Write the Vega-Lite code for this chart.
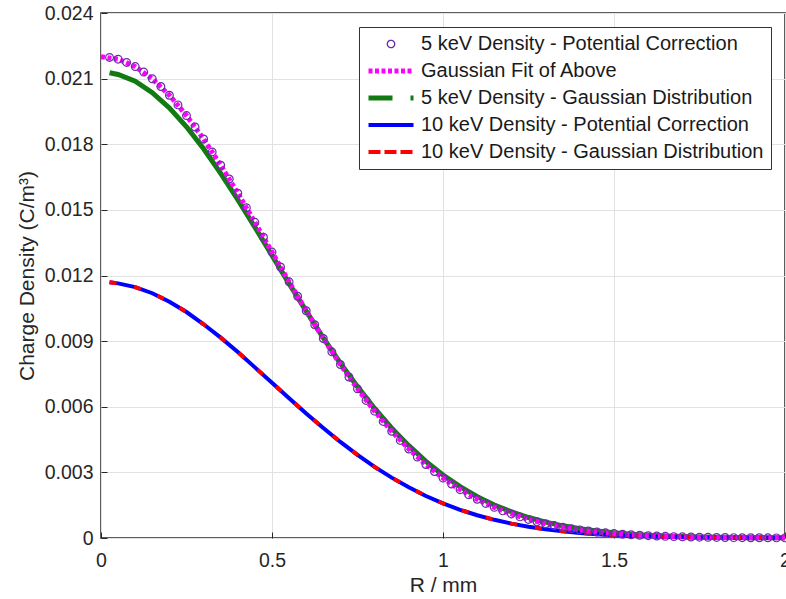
{
  "$schema": "https://vega.github.io/schema/vega-lite/v6.json",
  "width": 684,
  "height": 525,
  "autosize": {"type": "none"},
  "padding": {"left": 101, "top": 13, "right": 1, "bottom": 61},
  "background": "white",
  "config": {
    "font": "Liberation Sans",
    "view": {"stroke": "#262626", "strokeWidth": 1.5},
    "axis": {
      "domain": false,
      "ticks": true,
      "tickSize": -6,
      "tickColor": "#262626",
      "tickWidth": 1,
      "grid": true,
      "gridColor": "#e2e2e2",
      "gridWidth": 1,
      "labelFont": "Liberation Sans",
      "labelFontSize": 19.5,
      "labelColor": "#262626",
      "titleFont": "Liberation Sans",
      "titleFontSize": 21,
      "titleFontWeight": "normal",
      "titleColor": "#262626"
    },
    "legend": {
      "labelFont": "Liberation Sans",
      "labelFontSize": 20,
      "labelColor": "#1a1a1a",
      "fillColor": "white",
      "strokeColor": "#333333",
      "padding": 7,
      "labelOffset": 20,
      "symbolOffset": 15,
      "rowPadding": 7,
      "clipHeight": 20,
      "symbolSize": 2025,
      "symbolStrokeWidth": 5,
      "symbolType": "stroke",
      "cornerRadius": 0,
      "orient": "top-right",
      "offset": 14,
      "labelLimit": 500
    }
  },
  "data": {
    "values": [
      {"r": 0.025, "density": 0.02127, "series": "5 keV Density - Gaussian Distribution"},
      {"r": 0.05, "density": 0.02119, "series": "5 keV Density - Gaussian Distribution"},
      {"r": 0.1, "density": 0.02088, "series": "5 keV Density - Gaussian Distribution"},
      {"r": 0.15, "density": 0.02036, "series": "5 keV Density - Gaussian Distribution"},
      {"r": 0.2, "density": 0.01966, "series": "5 keV Density - Gaussian Distribution"},
      {"r": 0.25, "density": 0.0188, "series": "5 keV Density - Gaussian Distribution"},
      {"r": 0.3, "density": 0.01779, "series": "5 keV Density - Gaussian Distribution"},
      {"r": 0.35, "density": 0.01667, "series": "5 keV Density - Gaussian Distribution"},
      {"r": 0.4, "density": 0.01547, "series": "5 keV Density - Gaussian Distribution"},
      {"r": 0.45, "density": 0.01421, "series": "5 keV Density - Gaussian Distribution"},
      {"r": 0.5, "density": 0.01292, "series": "5 keV Density - Gaussian Distribution"},
      {"r": 0.55, "density": 0.01163, "series": "5 keV Density - Gaussian Distribution"},
      {"r": 0.6, "density": 0.01037, "series": "5 keV Density - Gaussian Distribution"},
      {"r": 0.65, "density": 0.00915, "series": "5 keV Density - Gaussian Distribution"},
      {"r": 0.7, "density": 0.00799, "series": "5 keV Density - Gaussian Distribution"},
      {"r": 0.75, "density": 0.00692, "series": "5 keV Density - Gaussian Distribution"},
      {"r": 0.8, "density": 0.00592, "series": "5 keV Density - Gaussian Distribution"},
      {"r": 0.85, "density": 0.00502, "series": "5 keV Density - Gaussian Distribution"},
      {"r": 0.9, "density": 0.00422, "series": "5 keV Density - Gaussian Distribution"},
      {"r": 0.95, "density": 0.0035, "series": "5 keV Density - Gaussian Distribution"},
      {"r": 1.0, "density": 0.00288, "series": "5 keV Density - Gaussian Distribution"},
      {"r": 1.05, "density": 0.00235, "series": "5 keV Density - Gaussian Distribution"},
      {"r": 1.1, "density": 0.00189, "series": "5 keV Density - Gaussian Distribution"},
      {"r": 1.15, "density": 0.00151, "series": "5 keV Density - Gaussian Distribution"},
      {"r": 1.2, "density": 0.0012, "series": "5 keV Density - Gaussian Distribution"},
      {"r": 1.25, "density": 0.000936, "series": "5 keV Density - Gaussian Distribution"},
      {"r": 1.3, "density": 0.000725, "series": "5 keV Density - Gaussian Distribution"},
      {"r": 1.35, "density": 0.000556, "series": "5 keV Density - Gaussian Distribution"},
      {"r": 1.4, "density": 0.000423, "series": "5 keV Density - Gaussian Distribution"},
      {"r": 1.45, "density": 0.000318, "series": "5 keV Density - Gaussian Distribution"},
      {"r": 1.5, "density": 0.000237, "series": "5 keV Density - Gaussian Distribution"},
      {"r": 1.55, "density": 0.000174, "series": "5 keV Density - Gaussian Distribution"},
      {"r": 1.6, "density": 0.000127, "series": "5 keV Density - Gaussian Distribution"},
      {"r": 1.65, "density": 0.000092, "series": "5 keV Density - Gaussian Distribution"},
      {"r": 1.7, "density": 0.0000658, "series": "5 keV Density - Gaussian Distribution"},
      {"r": 1.75, "density": 0.0000466, "series": "5 keV Density - Gaussian Distribution"},
      {"r": 1.8, "density": 0.0000327, "series": "5 keV Density - Gaussian Distribution"},
      {"r": 1.85, "density": 0.0000227, "series": "5 keV Density - Gaussian Distribution"},
      {"r": 1.9, "density": 0.0000156, "series": "5 keV Density - Gaussian Distribution"},
      {"r": 1.95, "density": 0.0000106, "series": "5 keV Density - Gaussian Distribution"},
      {"r": 2.0, "density": 0.0000071, "series": "5 keV Density - Gaussian Distribution"},

      {"r": 0.025, "density": 0.01169, "series": "10 keV Density - Potential Correction"},
      {"r": 0.05, "density": 0.01164, "series": "10 keV Density - Potential Correction"},
      {"r": 0.1, "density": 0.01147, "series": "10 keV Density - Potential Correction"},
      {"r": 0.15, "density": 0.01119, "series": "10 keV Density - Potential Correction"},
      {"r": 0.2, "density": 0.0108, "series": "10 keV Density - Potential Correction"},
      {"r": 0.25, "density": 0.01033, "series": "10 keV Density - Potential Correction"},
      {"r": 0.3, "density": 0.00977, "series": "10 keV Density - Potential Correction"},
      {"r": 0.35, "density": 0.00916, "series": "10 keV Density - Potential Correction"},
      {"r": 0.4, "density": 0.0085, "series": "10 keV Density - Potential Correction"},
      {"r": 0.45, "density": 0.0078, "series": "10 keV Density - Potential Correction"},
      {"r": 0.5, "density": 0.0071, "series": "10 keV Density - Potential Correction"},
      {"r": 0.55, "density": 0.00639, "series": "10 keV Density - Potential Correction"},
      {"r": 0.6, "density": 0.00569, "series": "10 keV Density - Potential Correction"},
      {"r": 0.65, "density": 0.00503, "series": "10 keV Density - Potential Correction"},
      {"r": 0.7, "density": 0.00439, "series": "10 keV Density - Potential Correction"},
      {"r": 0.75, "density": 0.0038, "series": "10 keV Density - Potential Correction"},
      {"r": 0.8, "density": 0.00325, "series": "10 keV Density - Potential Correction"},
      {"r": 0.85, "density": 0.00276, "series": "10 keV Density - Potential Correction"},
      {"r": 0.9, "density": 0.00232, "series": "10 keV Density - Potential Correction"},
      {"r": 0.95, "density": 0.00192, "series": "10 keV Density - Potential Correction"},
      {"r": 1.0, "density": 0.00158, "series": "10 keV Density - Potential Correction"},
      {"r": 1.05, "density": 0.00129, "series": "10 keV Density - Potential Correction"},
      {"r": 1.1, "density": 0.00104, "series": "10 keV Density - Potential Correction"},
      {"r": 1.15, "density": 0.000831, "series": "10 keV Density - Potential Correction"},
      {"r": 1.2, "density": 0.000657, "series": "10 keV Density - Potential Correction"},
      {"r": 1.25, "density": 0.000514, "series": "10 keV Density - Potential Correction"},
      {"r": 1.3, "density": 0.000398, "series": "10 keV Density - Potential Correction"},
      {"r": 1.35, "density": 0.000306, "series": "10 keV Density - Potential Correction"},
      {"r": 1.4, "density": 0.000232, "series": "10 keV Density - Potential Correction"},
      {"r": 1.45, "density": 0.000175, "series": "10 keV Density - Potential Correction"},
      {"r": 1.5, "density": 0.00013, "series": "10 keV Density - Potential Correction"},
      {"r": 1.55, "density": 0.0000958, "series": "10 keV Density - Potential Correction"},
      {"r": 1.6, "density": 0.00007, "series": "10 keV Density - Potential Correction"},
      {"r": 1.65, "density": 0.0000505, "series": "10 keV Density - Potential Correction"},
      {"r": 1.7, "density": 0.0000362, "series": "10 keV Density - Potential Correction"},
      {"r": 1.75, "density": 0.0000256, "series": "10 keV Density - Potential Correction"},
      {"r": 1.8, "density": 0.0000179, "series": "10 keV Density - Potential Correction"},
      {"r": 1.85, "density": 0.0000124, "series": "10 keV Density - Potential Correction"},
      {"r": 1.9, "density": 0.0000086, "series": "10 keV Density - Potential Correction"},
      {"r": 1.95, "density": 0.0000058, "series": "10 keV Density - Potential Correction"},
      {"r": 2.0, "density": 0.0000039, "series": "10 keV Density - Potential Correction"},

      {"r": 0.025, "density": 0.01169, "series": "10 keV Density - Gaussian Distribution"},
      {"r": 0.05, "density": 0.01164, "series": "10 keV Density - Gaussian Distribution"},
      {"r": 0.1, "density": 0.01147, "series": "10 keV Density - Gaussian Distribution"},
      {"r": 0.15, "density": 0.01119, "series": "10 keV Density - Gaussian Distribution"},
      {"r": 0.2, "density": 0.0108, "series": "10 keV Density - Gaussian Distribution"},
      {"r": 0.25, "density": 0.01033, "series": "10 keV Density - Gaussian Distribution"},
      {"r": 0.3, "density": 0.00977, "series": "10 keV Density - Gaussian Distribution"},
      {"r": 0.35, "density": 0.00916, "series": "10 keV Density - Gaussian Distribution"},
      {"r": 0.4, "density": 0.0085, "series": "10 keV Density - Gaussian Distribution"},
      {"r": 0.45, "density": 0.0078, "series": "10 keV Density - Gaussian Distribution"},
      {"r": 0.5, "density": 0.0071, "series": "10 keV Density - Gaussian Distribution"},
      {"r": 0.55, "density": 0.00639, "series": "10 keV Density - Gaussian Distribution"},
      {"r": 0.6, "density": 0.00569, "series": "10 keV Density - Gaussian Distribution"},
      {"r": 0.65, "density": 0.00503, "series": "10 keV Density - Gaussian Distribution"},
      {"r": 0.7, "density": 0.00439, "series": "10 keV Density - Gaussian Distribution"},
      {"r": 0.75, "density": 0.0038, "series": "10 keV Density - Gaussian Distribution"},
      {"r": 0.8, "density": 0.00325, "series": "10 keV Density - Gaussian Distribution"},
      {"r": 0.85, "density": 0.00276, "series": "10 keV Density - Gaussian Distribution"},
      {"r": 0.9, "density": 0.00232, "series": "10 keV Density - Gaussian Distribution"},
      {"r": 0.95, "density": 0.00192, "series": "10 keV Density - Gaussian Distribution"},
      {"r": 1.0, "density": 0.00158, "series": "10 keV Density - Gaussian Distribution"},
      {"r": 1.05, "density": 0.00129, "series": "10 keV Density - Gaussian Distribution"},
      {"r": 1.1, "density": 0.00104, "series": "10 keV Density - Gaussian Distribution"},
      {"r": 1.15, "density": 0.000831, "series": "10 keV Density - Gaussian Distribution"},
      {"r": 1.2, "density": 0.000657, "series": "10 keV Density - Gaussian Distribution"},
      {"r": 1.25, "density": 0.000514, "series": "10 keV Density - Gaussian Distribution"},
      {"r": 1.3, "density": 0.000398, "series": "10 keV Density - Gaussian Distribution"},
      {"r": 1.35, "density": 0.000306, "series": "10 keV Density - Gaussian Distribution"},
      {"r": 1.4, "density": 0.000232, "series": "10 keV Density - Gaussian Distribution"},
      {"r": 1.45, "density": 0.000175, "series": "10 keV Density - Gaussian Distribution"},
      {"r": 1.5, "density": 0.00013, "series": "10 keV Density - Gaussian Distribution"},
      {"r": 1.55, "density": 0.0000958, "series": "10 keV Density - Gaussian Distribution"},
      {"r": 1.6, "density": 0.00007, "series": "10 keV Density - Gaussian Distribution"},
      {"r": 1.65, "density": 0.0000505, "series": "10 keV Density - Gaussian Distribution"},
      {"r": 1.7, "density": 0.0000362, "series": "10 keV Density - Gaussian Distribution"},
      {"r": 1.75, "density": 0.0000256, "series": "10 keV Density - Gaussian Distribution"},
      {"r": 1.8, "density": 0.0000179, "series": "10 keV Density - Gaussian Distribution"},
      {"r": 1.85, "density": 0.0000124, "series": "10 keV Density - Gaussian Distribution"},
      {"r": 1.9, "density": 0.0000086, "series": "10 keV Density - Gaussian Distribution"},
      {"r": 1.95, "density": 0.0000058, "series": "10 keV Density - Gaussian Distribution"},
      {"r": 2.0, "density": 0.0000039, "series": "10 keV Density - Gaussian Distribution"},

      {"r": 0.0, "density": 0.022, "series": "Gaussian Fit of Above"},
      {"r": 0.05, "density": 0.02189, "series": "Gaussian Fit of Above"},
      {"r": 0.1, "density": 0.02155, "series": "Gaussian Fit of Above"},
      {"r": 0.15, "density": 0.02099, "series": "Gaussian Fit of Above"},
      {"r": 0.2, "density": 0.02024, "series": "Gaussian Fit of Above"},
      {"r": 0.25, "density": 0.01931, "series": "Gaussian Fit of Above"},
      {"r": 0.3, "density": 0.01824, "series": "Gaussian Fit of Above"},
      {"r": 0.35, "density": 0.01704, "series": "Gaussian Fit of Above"},
      {"r": 0.4, "density": 0.01576, "series": "Gaussian Fit of Above"},
      {"r": 0.45, "density": 0.01443, "series": "Gaussian Fit of Above"},
      {"r": 0.5, "density": 0.01307, "series": "Gaussian Fit of Above"},
      {"r": 0.55, "density": 0.01171, "series": "Gaussian Fit of Above"},
      {"r": 0.6, "density": 0.01039, "series": "Gaussian Fit of Above"},
      {"r": 0.65, "density": 0.00912, "series": "Gaussian Fit of Above"},
      {"r": 0.7, "density": 0.00793, "series": "Gaussian Fit of Above"},
      {"r": 0.75, "density": 0.00682, "series": "Gaussian Fit of Above"},
      {"r": 0.8, "density": 0.0058, "series": "Gaussian Fit of Above"},
      {"r": 0.85, "density": 0.00488, "series": "Gaussian Fit of Above"},
      {"r": 0.9, "density": 0.00407, "series": "Gaussian Fit of Above"},
      {"r": 0.95, "density": 0.00336, "series": "Gaussian Fit of Above"},
      {"r": 1.0, "density": 0.00274, "series": "Gaussian Fit of Above"},
      {"r": 1.05, "density": 0.00221, "series": "Gaussian Fit of Above"},
      {"r": 1.1, "density": 0.00177, "series": "Gaussian Fit of Above"},
      {"r": 1.15, "density": 0.0014, "series": "Gaussian Fit of Above"},
      {"r": 1.2, "density": 0.0011, "series": "Gaussian Fit of Above"},
      {"r": 1.25, "density": 0.000849, "series": "Gaussian Fit of Above"},
      {"r": 1.3, "density": 0.000651, "series": "Gaussian Fit of Above"},
      {"r": 1.35, "density": 0.000494, "series": "Gaussian Fit of Above"},
      {"r": 1.4, "density": 0.000371, "series": "Gaussian Fit of Above"},
      {"r": 1.45, "density": 0.000276, "series": "Gaussian Fit of Above"},
      {"r": 1.5, "density": 0.000203, "series": "Gaussian Fit of Above"},
      {"r": 1.55, "density": 0.000147, "series": "Gaussian Fit of Above"},
      {"r": 1.6, "density": 0.000106, "series": "Gaussian Fit of Above"},
      {"r": 1.65, "density": 0.0000757, "series": "Gaussian Fit of Above"},
      {"r": 1.7, "density": 0.0000534, "series": "Gaussian Fit of Above"},
      {"r": 1.75, "density": 0.0000373, "series": "Gaussian Fit of Above"},
      {"r": 1.8, "density": 0.0000257, "series": "Gaussian Fit of Above"},
      {"r": 1.85, "density": 0.0000176, "series": "Gaussian Fit of Above"},
      {"r": 1.9, "density": 0.0000119, "series": "Gaussian Fit of Above"},
      {"r": 1.95, "density": 0.000008, "series": "Gaussian Fit of Above"},
      {"r": 2.0, "density": 0.0000053, "series": "Gaussian Fit of Above"},

      {"r": 0.025, "density": 0.02197, "series": "5 keV Density - Potential Correction"},
      {"r": 0.05, "density": 0.02189, "series": "5 keV Density - Potential Correction"},
      {"r": 0.075, "density": 0.02174, "series": "5 keV Density - Potential Correction"},
      {"r": 0.1, "density": 0.02155, "series": "5 keV Density - Potential Correction"},
      {"r": 0.125, "density": 0.0213, "series": "5 keV Density - Potential Correction"},
      {"r": 0.15, "density": 0.02099, "series": "5 keV Density - Potential Correction"},
      {"r": 0.175, "density": 0.02064, "series": "5 keV Density - Potential Correction"},
      {"r": 0.2, "density": 0.02024, "series": "5 keV Density - Potential Correction"},
      {"r": 0.225, "density": 0.0198, "series": "5 keV Density - Potential Correction"},
      {"r": 0.25, "density": 0.01931, "series": "5 keV Density - Potential Correction"},
      {"r": 0.275, "density": 0.01879, "series": "5 keV Density - Potential Correction"},
      {"r": 0.3, "density": 0.01824, "series": "5 keV Density - Potential Correction"},
      {"r": 0.325, "density": 0.01765, "series": "5 keV Density - Potential Correction"},
      {"r": 0.35, "density": 0.01704, "series": "5 keV Density - Potential Correction"},
      {"r": 0.375, "density": 0.01641, "series": "5 keV Density - Potential Correction"},
      {"r": 0.4, "density": 0.01576, "series": "5 keV Density - Potential Correction"},
      {"r": 0.425, "density": 0.0151, "series": "5 keV Density - Potential Correction"},
      {"r": 0.45, "density": 0.01443, "series": "5 keV Density - Potential Correction"},
      {"r": 0.475, "density": 0.01375, "series": "5 keV Density - Potential Correction"},
      {"r": 0.5, "density": 0.01307, "series": "5 keV Density - Potential Correction"},
      {"r": 0.525, "density": 0.01239, "series": "5 keV Density - Potential Correction"},
      {"r": 0.55, "density": 0.01171, "series": "5 keV Density - Potential Correction"},
      {"r": 0.575, "density": 0.01105, "series": "5 keV Density - Potential Correction"},
      {"r": 0.6, "density": 0.01039, "series": "5 keV Density - Potential Correction"},
      {"r": 0.625, "density": 0.00975, "series": "5 keV Density - Potential Correction"},
      {"r": 0.65, "density": 0.00912, "series": "5 keV Density - Potential Correction"},
      {"r": 0.675, "density": 0.00851, "series": "5 keV Density - Potential Correction"},
      {"r": 0.7, "density": 0.00793, "series": "5 keV Density - Potential Correction"},
      {"r": 0.725, "density": 0.00736, "series": "5 keV Density - Potential Correction"},
      {"r": 0.75, "density": 0.00682, "series": "5 keV Density - Potential Correction"},
      {"r": 0.775, "density": 0.00629, "series": "5 keV Density - Potential Correction"},
      {"r": 0.8, "density": 0.0058, "series": "5 keV Density - Potential Correction"},
      {"r": 0.825, "density": 0.00533, "series": "5 keV Density - Potential Correction"},
      {"r": 0.85, "density": 0.00488, "series": "5 keV Density - Potential Correction"},
      {"r": 0.875, "density": 0.00446, "series": "5 keV Density - Potential Correction"},
      {"r": 0.9, "density": 0.00407, "series": "5 keV Density - Potential Correction"},
      {"r": 0.925, "density": 0.0037, "series": "5 keV Density - Potential Correction"},
      {"r": 0.95, "density": 0.00336, "series": "5 keV Density - Potential Correction"},
      {"r": 0.975, "density": 0.00304, "series": "5 keV Density - Potential Correction"},
      {"r": 1.0, "density": 0.00274, "series": "5 keV Density - Potential Correction"},
      {"r": 1.025, "density": 0.00247, "series": "5 keV Density - Potential Correction"},
      {"r": 1.05, "density": 0.00221, "series": "5 keV Density - Potential Correction"},
      {"r": 1.075, "density": 0.00198, "series": "5 keV Density - Potential Correction"},
      {"r": 1.1, "density": 0.00177, "series": "5 keV Density - Potential Correction"},
      {"r": 1.125, "density": 0.00158, "series": "5 keV Density - Potential Correction"},
      {"r": 1.15, "density": 0.0014, "series": "5 keV Density - Potential Correction"},
      {"r": 1.175, "density": 0.00124, "series": "5 keV Density - Potential Correction"},
      {"r": 1.2, "density": 0.0011, "series": "5 keV Density - Potential Correction"},
      {"r": 1.225, "density": 0.000965, "series": "5 keV Density - Potential Correction"},
      {"r": 1.25, "density": 0.000849, "series": "5 keV Density - Potential Correction"},
      {"r": 1.275, "density": 0.000744, "series": "5 keV Density - Potential Correction"},
      {"r": 1.3, "density": 0.000651, "series": "5 keV Density - Potential Correction"},
      {"r": 1.325, "density": 0.000567, "series": "5 keV Density - Potential Correction"},
      {"r": 1.35, "density": 0.000494, "series": "5 keV Density - Potential Correction"},
      {"r": 1.375, "density": 0.000428, "series": "5 keV Density - Potential Correction"},
      {"r": 1.4, "density": 0.000371, "series": "5 keV Density - Potential Correction"},
      {"r": 1.425, "density": 0.00032, "series": "5 keV Density - Potential Correction"},
      {"r": 1.45, "density": 0.000276, "series": "5 keV Density - Potential Correction"},
      {"r": 1.475, "density": 0.000237, "series": "5 keV Density - Potential Correction"},
      {"r": 1.5, "density": 0.000203, "series": "5 keV Density - Potential Correction"},
      {"r": 1.525, "density": 0.000173, "series": "5 keV Density - Potential Correction"},
      {"r": 1.55, "density": 0.000147, "series": "5 keV Density - Potential Correction"},
      {"r": 1.575, "density": 0.000125, "series": "5 keV Density - Potential Correction"},
      {"r": 1.6, "density": 0.000106, "series": "5 keV Density - Potential Correction"},
      {"r": 1.625, "density": 0.0000898, "series": "5 keV Density - Potential Correction"},
      {"r": 1.65, "density": 0.0000757, "series": "5 keV Density - Potential Correction"},
      {"r": 1.675, "density": 0.0000637, "series": "5 keV Density - Potential Correction"},
      {"r": 1.7, "density": 0.0000534, "series": "5 keV Density - Potential Correction"},
      {"r": 1.725, "density": 0.0000447, "series": "5 keV Density - Potential Correction"},
      {"r": 1.75, "density": 0.0000373, "series": "5 keV Density - Potential Correction"},
      {"r": 1.775, "density": 0.000031, "series": "5 keV Density - Potential Correction"},
      {"r": 1.8, "density": 0.0000257, "series": "5 keV Density - Potential Correction"},
      {"r": 1.825, "density": 0.0000213, "series": "5 keV Density - Potential Correction"},
      {"r": 1.85, "density": 0.0000176, "series": "5 keV Density - Potential Correction"},
      {"r": 1.875, "density": 0.0000145, "series": "5 keV Density - Potential Correction"},
      {"r": 1.9, "density": 0.0000119, "series": "5 keV Density - Potential Correction"},
      {"r": 1.925, "density": 0.0000098, "series": "5 keV Density - Potential Correction"},
      {"r": 1.95, "density": 0.000008, "series": "5 keV Density - Potential Correction"},
      {"r": 1.975, "density": 0.0000065, "series": "5 keV Density - Potential Correction"},
      {"r": 2.0, "density": 0.0000053, "series": "5 keV Density - Potential Correction"}
    ]
  },
  "encoding": {
    "x": {
      "field": "r",
      "type": "quantitative",
      "title": "R / mm",
      "scale": {"domain": [0, 2], "nice": false, "zero": false},
      "axis": {"values": [0, 0.5, 1, 1.5, 2], "format": "~g", "labelPadding": 19, "titlePadding": 5, "labelFlush": false}
    },
    "y": {
      "field": "density",
      "type": "quantitative",
      "title": "Charge Density (C/m³)",
      "scale": {"domain": [0, 0.024], "nice": false},
      "axis": {"values": [0, 0.003, 0.006, 0.009, 0.012, 0.015, 0.018, 0.021, 0.024], "format": ".3~f", "labelPadding": 14, "titlePadding": 7, "labelFlush": false}
    },
    "stroke": {
      "field": "series",
      "type": "nominal",
      "title": null,
      "scale": {
        "domain": ["5 keV Density - Potential Correction", "Gaussian Fit of Above", "5 keV Density - Gaussian Distribution", "10 keV Density - Potential Correction", "10 keV Density - Gaussian Distribution"],
        "range": ["#6a2fa8", "#ff00ff", "#117a11", "#0000ff", "#ff0000"]
      },
      "legend": {
        "encode": {
          "symbols": {
            "update": {
              "shape": {"signal": "datum.value === '5 keV Density - Potential Correction' ? 'circle' : 'stroke'"},
              "size": {"signal": "datum.value === '5 keV Density - Potential Correction' ? 55 : 2025"},
              "strokeWidth": {"signal": "datum.value === '5 keV Density - Potential Correction' ? 1.3 : (datum.value === 'Gaussian Fit of Above' || datum.value === '5 keV Density - Gaussian Distribution') ? 5 : 4"},
              "strokeDash": {"signal": "datum.value === 'Gaussian Fit of Above' ? [4, 2.5] : datum.value === '5 keV Density - Gaussian Distribution' ? [24, 18] : datum.value === '10 keV Density - Gaussian Distribution' ? [12, 4] : [1, 0]"},
              "fill": {"value": "transparent"},
              "opacity": {"value": 1}
            }
          }
        }
      }
    }
  },
  "layer": [
    {
      "transform": [{"filter": "datum.series === '5 keV Density - Gaussian Distribution'"}],
      "mark": {"type": "line", "strokeCap": "butt", "strokeWidth": 5}
    },
    {
      "transform": [{"filter": "datum.series === '10 keV Density - Potential Correction'"}],
      "mark": {"type": "line", "strokeCap": "butt", "strokeWidth": 4}
    },
    {
      "transform": [{"filter": "datum.series === '10 keV Density - Gaussian Distribution'"}],
      "mark": {"type": "line", "strokeCap": "butt", "strokeWidth": 4, "strokeDash": [7, 18]}
    },
    {
      "transform": [{"filter": "datum.series === 'Gaussian Fit of Above'"}],
      "mark": {"type": "line", "strokeCap": "butt", "strokeWidth": 5, "strokeDash": [4, 2.5]}
    },
    {
      "transform": [{"filter": "datum.series === '5 keV Density - Potential Correction'"}],
      "mark": {"type": "point", "filled": false, "opacity": 1, "size": 60, "strokeWidth": 1.2}
    }
  ]
}
